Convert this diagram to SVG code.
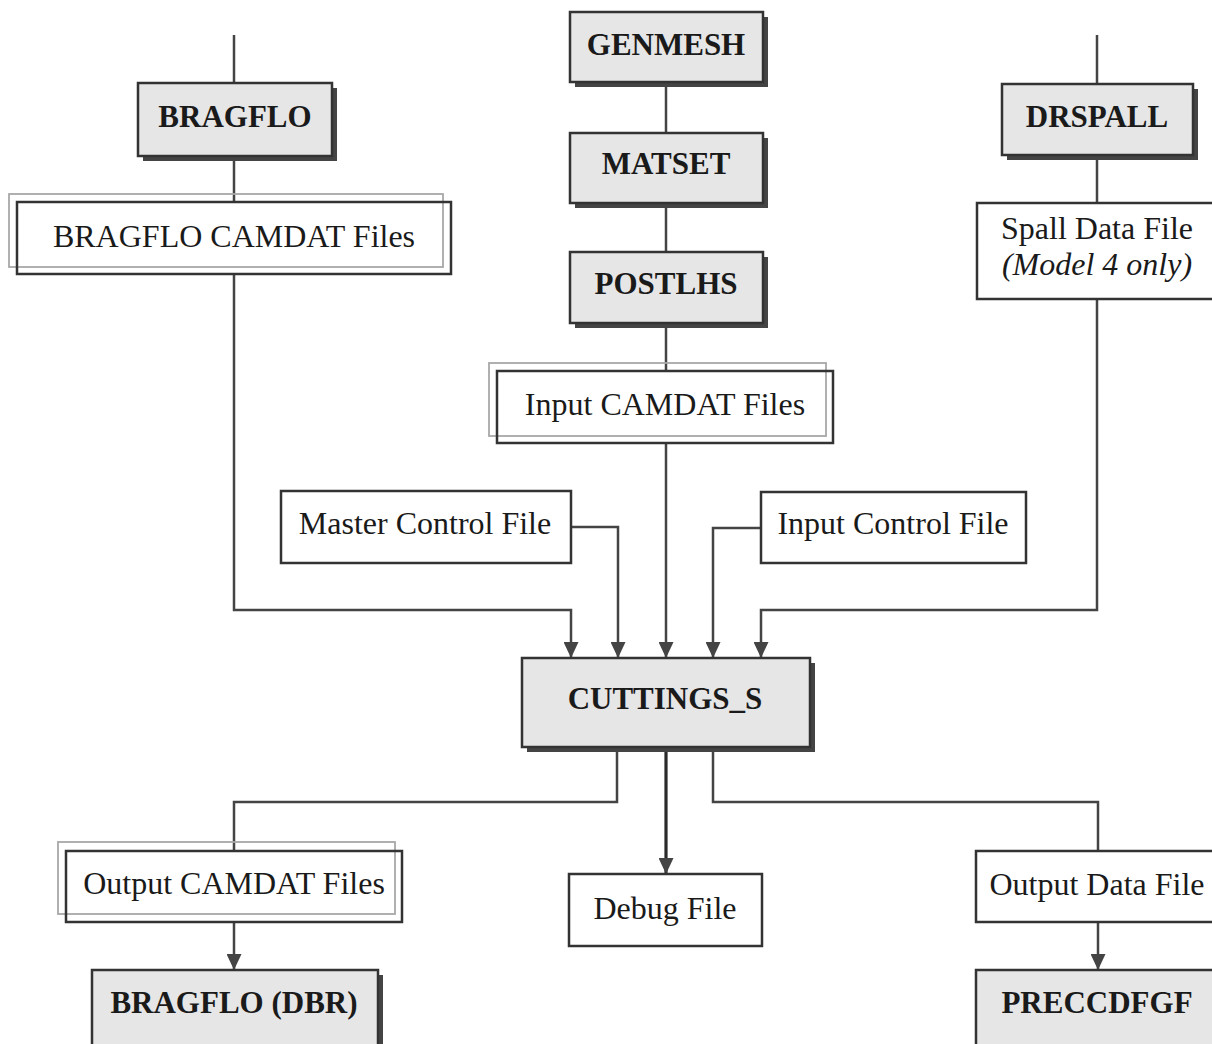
<svg xmlns="http://www.w3.org/2000/svg" width="1212" height="1044" viewBox="0 0 1212 1044">
<style>
.bg{fill:#ffffff}
.box{fill:#ffffff;stroke:#333;stroke-width:2.5}
.ghost{fill:none;stroke:#a8a8a8;stroke-width:1.8}
.prog{fill:#e6e6e6;stroke:#333;stroke-width:2.5}
.shadow{fill:#444;stroke:none}
.t{font-family:"Liberation Serif","Times New Roman",serif;font-size:32px;fill:#1a1a1a;text-anchor:middle}
.b{font-weight:bold;font-size:31px}
.i{font-style:italic}
.c{fill:none;stroke:#444;stroke-width:2.5}
.thick{stroke:#2a2a2a;stroke-width:3.2}
</style>
<defs>
<marker id="ah" markerUnits="userSpaceOnUse" markerWidth="16" markerHeight="15" refX="16" refY="7.5" orient="auto" viewBox="0 0 16 15">
<path d="M0,0 L16,7.5 L0,15 Z" fill="#444"/>
</marker>
</defs>
<rect class="bg" x="0" y="0" width="1212" height="1044"/>
<g id="connectors">
<path class="c" d="M234,35 V83"/>
<path class="c" d="M234,156 V202"/>
<path class="c" d="M234,274 V610 H571 V658" marker-end="url(#ah)"/>
<path class="c" d="M666,82 V133"/>
<path class="c" d="M666,203 V252"/>
<path class="c" d="M666,323 V371"/>
<path class="c" d="M666,443 V658" marker-end="url(#ah)"/>
<path class="c" d="M571,527 H618 V658" marker-end="url(#ah)"/>
<path class="c" d="M761,528 H713 V658" marker-end="url(#ah)"/>
<path class="c" d="M1097,35 V84"/>
<path class="c" d="M1097,155 V203"/>
<path class="c" d="M1097,299 V610 H761 V658" marker-end="url(#ah)"/>
<path class="c" d="M617,752 V802 H234 V851"/>
<path class="c thick" d="M666,752 V874" marker-end="url(#ah)"/>
<path class="c" d="M713,752 V802 H1098 V851"/>
<path class="c" d="M234,922 V970" marker-end="url(#ah)"/>
<path class="c" d="M1098,922 V970" marker-end="url(#ah)"/>
</g>
<g id="bragflo">
<rect class="shadow" x="143" y="88" width="194" height="73"/>
<rect class="prog" x="138" y="83" width="194" height="73"/>
<text class="t b" x="235" y="127">BRAGFLO</text>
</g>
<g id="bragflo-camdat">
<rect class="ghost" x="9" y="194" width="434" height="73"/>
<rect class="box" x="17" y="202" width="434" height="72" style="fill:none"/>
<text class="t" x="234" y="247">BRAGFLO CAMDAT Files</text>
</g>
<g id="genmesh">
<rect class="shadow" x="575" y="17" width="193" height="70"/>
<rect class="prog" x="570" y="12" width="193" height="70"/>
<text class="t b" x="666" y="55">GENMESH</text>
</g>
<g id="matset">
<rect class="shadow" x="575" y="138" width="193" height="70"/>
<rect class="prog" x="570" y="133" width="193" height="70"/>
<text class="t b" x="666" y="174">MATSET</text>
</g>
<g id="postlhs">
<rect class="shadow" x="575" y="257" width="193" height="71"/>
<rect class="prog" x="570" y="252" width="193" height="71"/>
<text class="t b" x="666" y="294">POSTLHS</text>
</g>
<g id="input-camdat">
<rect class="ghost" x="489" y="363" width="337" height="73"/>
<rect class="box" x="497" y="371" width="336" height="72" style="fill:none"/>
<text class="t" x="665" y="415">Input CAMDAT Files</text>
</g>
<g id="drspall">
<rect class="shadow" x="1007" y="89" width="191" height="71"/>
<rect class="prog" x="1002" y="84" width="191" height="71"/>
<text class="t b" x="1097" y="127">DRSPALL</text>
</g>
<g id="spall-data">
<rect class="box" x="977" y="203" width="250" height="96"/>
<text class="t" x="1097" y="239">Spall Data File</text>
<text class="t i" x="1097" y="275">(Model 4 only)</text>
</g>
<g id="master-control">
<rect class="box" x="281" y="491" width="290" height="72"/>
<text class="t" x="425" y="534">Master Control File</text>
</g>
<g id="input-control">
<rect class="box" x="761" y="492" width="265" height="71"/>
<text class="t" x="893" y="534">Input Control File</text>
</g>
<g id="cuttings">
<rect class="shadow" x="527" y="663" width="288" height="89"/>
<rect class="prog" x="522" y="658" width="288" height="89"/>
<text class="t b" x="665" y="709">CUTTINGS_S</text>
</g>
<g id="output-camdat">
<rect class="ghost" x="58" y="842" width="337" height="72"/>
<rect class="box" x="66" y="851" width="336" height="71" style="fill:none"/>
<text class="t" x="234" y="894">Output CAMDAT Files</text>
</g>
<g id="debug">
<rect class="box" x="569" y="874" width="193" height="72"/>
<text class="t" x="665" y="919">Debug File</text>
</g>
<g id="output-data">
<rect class="box" x="976" y="851" width="250" height="71"/>
<text class="t" x="1097" y="895">Output Data File</text>
</g>
<g id="bragflo-dbr">
<rect class="shadow" x="97" y="975" width="286" height="80"/>
<rect class="prog" x="92" y="970" width="286" height="80"/>
<text class="t b" x="234" y="1013">BRAGFLO (DBR)</text>
</g>
<g id="preccdfgf">
<rect class="shadow" x="981" y="975" width="250" height="80"/>
<rect class="prog" x="976" y="970" width="250" height="80"/>
<text class="t b" x="1097" y="1013">PRECCDFGF</text>
</g>
</svg>
